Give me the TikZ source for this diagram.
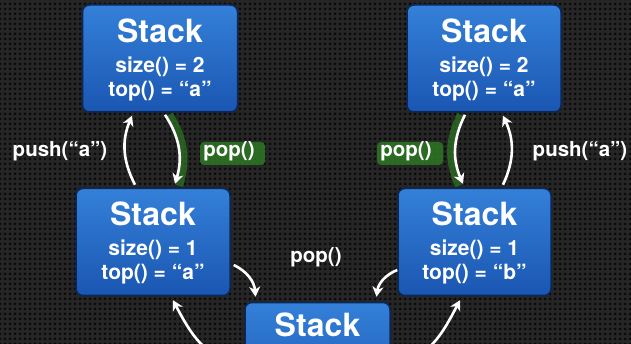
\documentclass[tikz,border=0pt]{standalone}
\usepackage{fontspec}
\setmainfont{TeX Gyre Heros}
\usetikzlibrary{arrows.meta,patterns.meta}
\definecolor{bgc}{HTML}{262626}
\definecolor{holec}{HTML}{0A0A0A}
\definecolor{boxtop}{RGB}{52,128,216}
\definecolor{boxbot}{RGB}{26,86,178}
\definecolor{boxedge}{RGB}{10,40,90}
\definecolor{glowc}{RGB}{45,120,35}
\tikzset{
  stackbox/.style={draw=boxedge, line width=1.5pt, rounded corners=7pt,
    top color=boxtop, bottom color=boxbot, minimum height=107pt, inner sep=0pt},
  titletext/.style={text=white, font=\fontsize{32}{32}\selectfont\bfseries, anchor=base, inner sep=0pt},
  infotext/.style={text=white, font=\fontsize{21}{21}\selectfont\bfseries, anchor=base, inner sep=0pt},
  lbl/.style={text=white, font=\fontsize{20.5}{20.5}\selectfont\bfseries, inner sep=0pt},
  arr/.style={white, line width=2.6pt, -{Stealth[length=10pt,width=11pt,inset=3pt]}},
  glow/.style={glowc, line width=8pt, opacity=0.7},
  glowbox/.style={fill=glowc, opacity=0.85, rounded corners=4pt}
}
\newcommand\mkstack[6]{%
  \node[stackbox, minimum width=#4pt] (#1) at (#2,#3) {};
  \node[titletext] (#1-a) at ([yshift=-38pt]#1.north) {Stack};
  \node[infotext] (#1-b) at ([yshift=-68pt]#1.north) {size() = #5};
  \node[infotext] (#1-c) at ([yshift=-92pt]#1.north) {top() = #6};
}
\begin{document}
\begin{tikzpicture}[x=1pt,y=1pt]
\useasboundingbox (0,0) rectangle (631,-344);
\clip (0,0) rectangle (631,-344);
\fill[bgc] (0,0) rectangle (631,-344);
\fill[pattern={Dots[distance=5pt,radius=1.5pt]}, pattern color=holec] (0,0) rectangle (631,-344);

\mkstack{tl}{160}{-58.5}{155}{2}{“a”}
\mkstack{tr}{484}{-58.5}{154}{2}{“a”}
\mkstack{ml}{153}{-242}{154}{1}{“a”}
\mkstack{mr}{474.5}{-242}{153}{1}{“b”}
\node[stackbox, minimum width=145pt] (bb) at (317.5,-356) {};
\node[titletext] (bb-a) at ([yshift=-35pt]bb.north) {Stack};

% green glows
\fill[glowbox] (200,-142) rectangle (265,-165);
\fill[glowbox] (377,-142) rectangle (443,-165);
\draw[glow] ([xshift=9pt,yshift=-2pt]tl.south) to[bend left=25] ([xshift=26pt,yshift=2pt]ml.north);
\draw[glow] ([xshift=-23pt,yshift=-2pt]tr.south) to[bend right=25] ([xshift=-15.5pt,yshift=2pt]mr.north);

% arrows
\draw[arr] ([xshift=-18pt,yshift=3pt]ml.north) to[bend left=25] ([xshift=-28pt,yshift=-3pt]tl.south);
\draw[arr] ([xshift=5pt,yshift=-2pt]tl.south) to[bend left=25] ([xshift=22pt,yshift=4pt]ml.north);
\draw[arr] ([xshift=-19pt,yshift=-2pt]tr.south) to[bend right=25] ([xshift=-11.5pt,yshift=4pt]mr.north);
\draw[arr] ([xshift=28.5pt,yshift=3pt]mr.north) to[bend right=25] ([xshift=19pt,yshift=-3pt]tr.south);
\draw[arr] ([xshift=3pt,yshift=-23pt]ml.east) to[bend left=30] ([xshift=-62pt,yshift=5pt]bb.north);
\draw[arr] ([xshift=0pt,yshift=-28pt]mr.west) to[bend right=30] ([xshift=59pt,yshift=5pt]bb.north);
\draw[arr] ([xshift=-4pt]bb.west) to[out=195,in=-62] ([xshift=20pt,yshift=-4pt]ml.south);
\draw[arr] ([xshift=4pt]bb.east) to[out=-15,in=242] ([xshift=-14.5pt,yshift=-4pt]mr.south);

% labels
\node[lbl] (lpushl) at (60,-151) {push(“a”)};
\node[lbl] (lpopl) at (229,-151) {pop()};
\node[lbl] (lpopr) at (406,-151) {pop()};
\node[lbl] (lpushr) at (580,-151) {push(“a”)};
\node[lbl] (lpopm) at (316,-257) {pop()};
\end{tikzpicture}
\end{document}
